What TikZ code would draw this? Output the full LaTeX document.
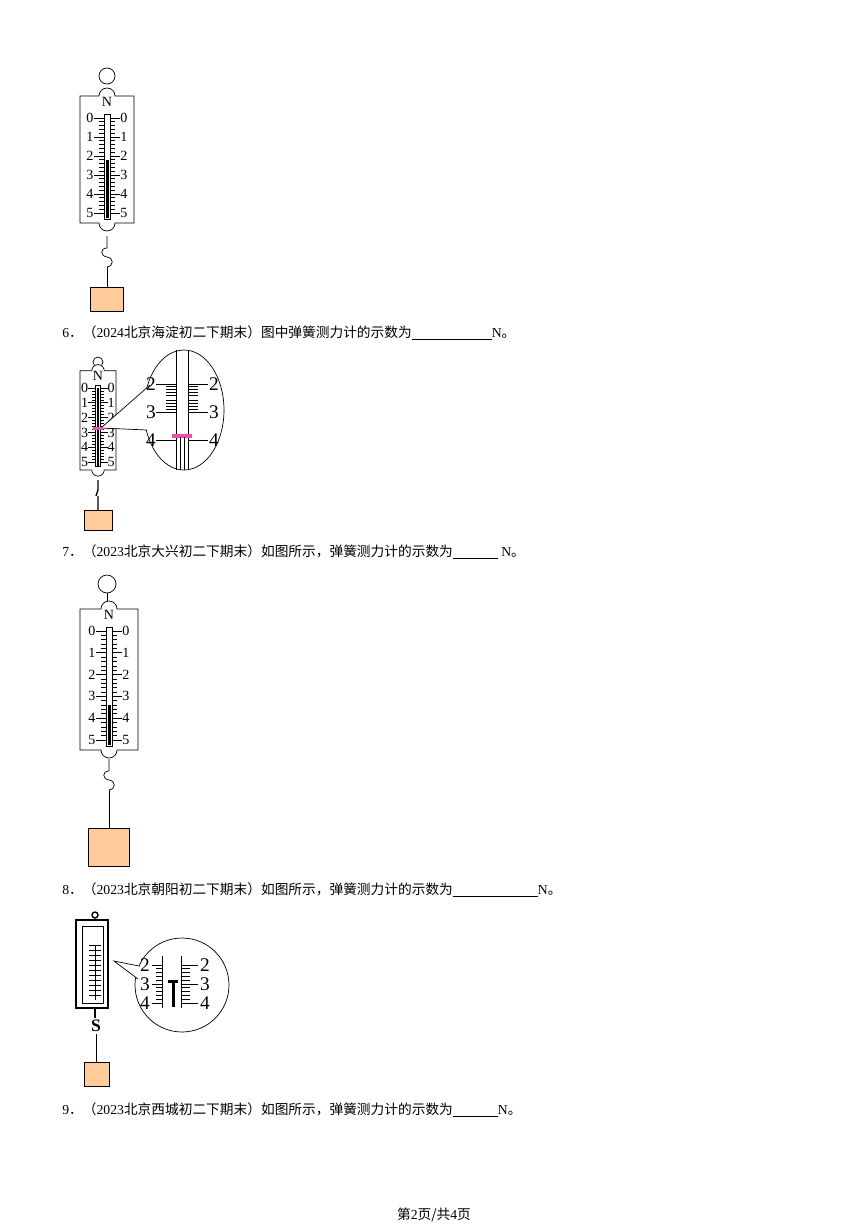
\documentclass[tikz,border=0pt]{standalone}
\usepackage{fontspec}
\setmainfont{Liberation Serif}
\newfontfamily\cjk{Noto Sans CJK SC}
\usetikzlibrary{shapes.geometric}
\tikzset{
  body/.style={draw,thin,fill=white},
  weight/.style={draw,thin,fill=orange!40},
  lbl/.style={font=\fontsize{8}{9}\selectfont,inner sep=0pt},
  qtext/.style={anchor=west,inner sep=0pt,font=\fontsize{7.8}{9}\selectfont},
  tick/.style={line width=0.4pt}
}
% gauge: #1 centre x, #2 y of 0 mark, #3 step, #4 half width, #5 y of rod top
\newcommand\gauge[5]{%
  \draw[body] ({#1-#4},{#2-22}) -- ({#1-8},{#2-22}) arc[start angle=180,end angle=360,radius=8] -- ({#1+#4},{#2-22})
     -- ({#1+#4},{#2+5*#3+10}) -- ({#1+8},{#2+5*#3+10}) arc[start angle=0,end angle=180,radius=8] -- ({#1-#4},{#2+5*#3+10}) -- cycle;
  \draw[thin] ({#1-3},{#2-4}) rectangle ({#1+3},{#2+5*#3+6});
  \fill ({#1-1.5},#5) rectangle ({#1+1.5},{#2+5*#3+5});
  \foreach \k in {0,...,25}{
    \draw[tick] ({#1-3},{#2+\k*#3/5}) -- ({#1-8},{#2+\k*#3/5});
    \draw[tick] ({#1+3},{#2+\k*#3/5}) -- ({#1+8},{#2+\k*#3/5});}
  \foreach \k in {0,...,5}{
    \draw[tick] ({#1-3},{#2+\k*#3}) -- ({#1-13},{#2+\k*#3});
    \draw[tick] ({#1+3},{#2+\k*#3}) -- ({#1+13},{#2+\k*#3});
    \node[lbl] at ({#1-17},{#2+\k*#3}) {\k};
    \node[lbl] at ({#1+17},{#2+\k*#3}) {\k};}
  \node[lbl] at (#1,{#2-16}) {N};
}
% hook below a gauge: #1 x, #2 top y
\newcommand\hook[2]{%
  \draw[thin] (#1,#2) -- (#1,{#2+12}) .. controls ({#1-7},{#2+12}) and ({#1-7},{#2+20}) .. (#1,{#2+21})
     .. controls ({#1+7},{#2+22}) and ({#1+7},{#2+30}) .. (#1,{#2+31});
}
\begin{document}
\begin{tikzpicture}[x=0.02cm,y=-0.02cm]
\useasboundingbox (0,0) rectangle (868,1227);
% question 5 gauge
\draw[thin] (107,76) circle[radius=8];
\gauge{107}{118}{19}{27}{160}
\hook{107}{236}
\draw[thin] (107,267) -- (107,287);
\node[weight,minimum width=0.66cm,minimum height=0.48cm] (w5) at (107,299) {};
\node[qtext] (q6) at (62,333) {6{\cjk ．（}2024{\cjk 北京海淀初二下期末）图中弹簧测力计的示数为}\underline{\hspace{1.6cm}}N{\cjk 。}};
% question 6 gauge
\draw[thin] (98,362) circle[radius=5];
\draw[thin] (98,367) -- (98,372);
\begin{scope}[shift={(98,388)},scale=0.78,shift={(-98,-388)}]
\gauge{98}{388}{19}{23}{388}
\end{scope}
\node[draw,thin,fill=white,ellipse,minimum width=1.6cm,minimum height=2.4cm] (lens6) at (184,410) {};
\fill[white] (101,428) -- (150,385) -- (147,430) -- cycle;
\draw[thin] (101,428) -- (150,385) (101,428) -- (147,430);
\fill[magenta!70] (93,427) rectangle (103,430);
\draw[thin] (176,350) -- (176,470) (188,350) -- (188,470);
\foreach \k/\t in {0/2,1/3,2/4}{
  \draw[tick] (156,{384+\k*28}) -- (176,{384+\k*28}) (188,{384+\k*28}) -- (208,{384+\k*28});
  \node[lbl,font=\fontsize{11}{12}\selectfont] at (151,{384+\k*28}) {\t};
  \node[lbl,font=\fontsize{11}{12}\selectfont] at (214,{384+\k*28}) {\t};}
\foreach \k in {1,2,3,4,6,7,8,9}{
  \draw[tick] (166,{384+\k*2.8}) -- (176,{384+\k*2.8}) (188,{384+\k*2.8}) -- (198,{384+\k*2.8});}
\fill[magenta!70] (172,434) rectangle (192,438);
\draw[thin] (180,437) -- (180,470) (184,437) -- (184,470);
\draw[thick] (98,480) -- (98,490) -- (96,496) (98,496) -- (98,512);
\node[weight,minimum width=0.56cm,minimum height=0.4cm] (w6) at (98,520) {};
\node[qtext] (q7) at (62,552) {7{\cjk ．（}2023{\cjk 北京大兴初二下期末）如图所示，弹簧测力计的示数为}\underline{\hspace{0.9cm}}~N{\cjk 。}};
% question 7 gauge
\draw[thin] (107,584) circle[radius=9];
\draw[thin] (107,593) -- (107,601);
\gauge{109}{631}{21.8}{29}{705}
\hook{109}{759}
\draw[thin] (109,790) -- (109,828);
\node[weight,minimum width=0.82cm,minimum height=0.76cm] (w7) at (109,847) {};
\node[qtext] (q8) at (62,890) {8{\cjk ．（}2023{\cjk 北京朝阳初二下期末）如图所示，弹簧测力计的示数为}\underline{\hspace{1.7cm}}N{\cjk 。}};
% question 8 gauge
\draw[thick] (95,915) circle[radius=3];
\draw[thick,fill=white] (76,920) rectangle (108,1008);
\draw[thin] (82,926) rectangle (103,1003);
\draw[thin] (95,945) -- (95,1000);
\foreach \k in {0,...,10}{\draw[tick] (89,{945+\k*5}) -- (101,{945+\k*5});}
\node[draw,thin,circle,fill=white,minimum size=1.88cm] (lens8) at (182,985) {};
\fill[white] (139,966) -- (114,961) -- (138,979) -- cycle;
\draw[thin] (139,966) -- (114,961) -- (138,979);
\foreach \k/\t in {0/2,1/3,2/4}{
  \draw[tick] (152,{965+\k*19}) -- (162,{965+\k*19}) (181,{965+\k*19}) -- (198,{965+\k*19});
  \node[lbl,font=\fontsize{11}{12}\selectfont] at (145,{965+\k*19}) {\t};
  \node[lbl,font=\fontsize{11}{12}\selectfont] at (205,{965+\k*19}) {\t};}
\draw[thin] (162,956) -- (162,1008) (181,956) -- (181,1008);
\foreach \k in {1,2,3,4,6,7,8,9}{
  \draw[tick] (156,{965+\k*3.8}) -- (162,{965+\k*3.8}) (181,{965+\k*3.8}) -- (190,{965+\k*3.8});}
\fill (168,980) rectangle (178,983);
\fill (171.5,980) rectangle (174.5,1007);
\draw[thick] (95,1008) -- (95,1018);
\node[font=\bfseries\fontsize{10}{10}\selectfont] (hook8) at (96,1026) {S};
\draw[thin] (96,1034) -- (96,1062);
\node[weight,minimum width=0.5cm,minimum height=0.48cm] (w8) at (97,1074) {};
\node[qtext] (q9) at (62,1110) {9{\cjk ．（}2023{\cjk 北京西城初二下期末）如图所示，弹簧测力计的示数为}\underline{\hspace{0.9cm}}N{\cjk 。}};
\node[qtext,anchor=center] (foot) at (434,1215) {{\cjk 第}2{\cjk 页/共}4{\cjk 页}};
\end{tikzpicture}
\end{document}
